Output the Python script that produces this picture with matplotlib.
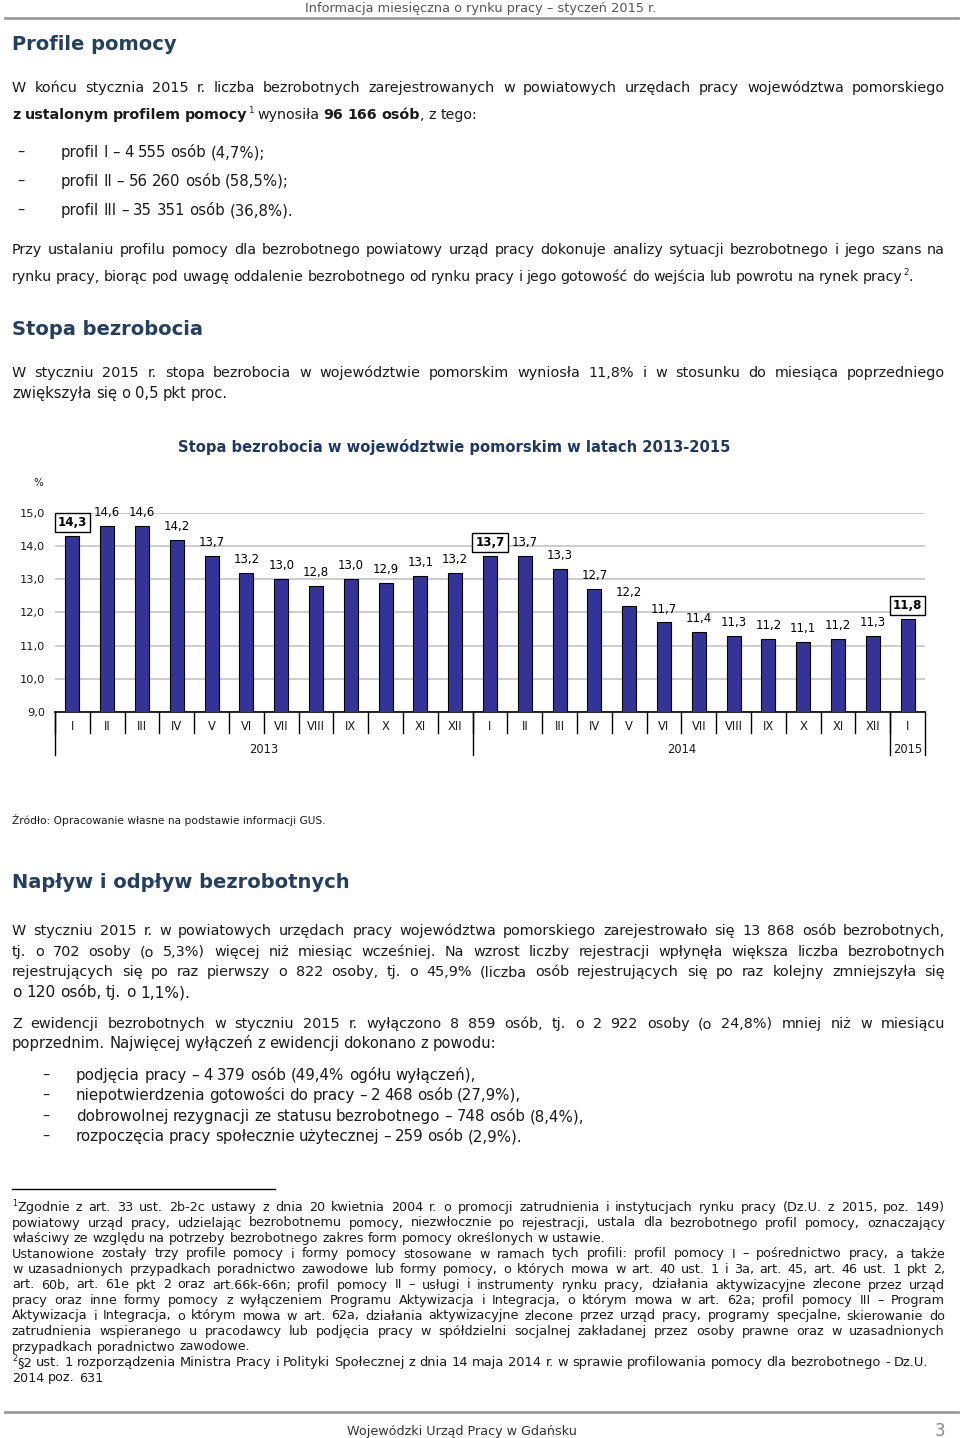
import matplotlib
matplotlib.use("Agg")
import matplotlib.pyplot as plt
from matplotlib.transforms import Affine2D

# dane do wykresu
months = ['I', 'II', 'III', 'IV', 'V', 'VI', 'VII', 'VIII', 'IX', 'X', 'XI', 'XII',
          'I', 'II', 'III', 'IV', 'V', 'VI', 'VII', 'VIII', 'IX', 'X', 'XI', 'XII',
          'I']
rates = [14.3, 14.6, 14.6, 14.2, 13.7, 13.2, 13.0, 12.8, 13.0, 12.9, 13.1, 13.2,
         13.7, 13.7, 13.3, 12.7, 12.2, 11.7, 11.4, 11.3, 11.2, 11.1, 11.2, 11.3,
         11.8]
years = ['2013', '2014', '2015']
year_lengths = [12, 12, 1]
highlighted = [0, 12, 24]
y_ticks = [9, 10, 11, 12, 13, 14, 15]

W, H = 960, 1438
fig = plt.figure(figsize=(W / 100, H / 100), dpi=100)
plt.rcParams['font.family'] = ['DejaVu Sans']
px = Affine2D().scale(1 / W, -1 / H).translate(0, 1) + fig.transFigure
R = fig.canvas.get_renderer()

TXT = '#1a1a1a'
HEAD = '#243F60'
BODY = 10.4
FOOT = 9.2


def fmt(v):
    return f"{v:.1f}".replace('.', ',')


def put(x, y, s, style, size, color):
    if style == 'sup':
        return fig.text(x, y - size * 0.55, s, fontsize=size * 0.62, color=color,
                        va='baseline', transform=px)
    return fig.text(x, y, s, fontsize=size, color=color, va='baseline', transform=px,
                    fontweight='bold' if style == 'b' else 'normal')


_cache = {}


def adv(s, style, size):
    # szerokosc slowa mierzona miedzy dwiema kreskami
    key = (s, style, round(size, 3))
    if key not in _cache:
        a = put(0, 0, '|' + s + '|', style, size, 'w')
        b = put(0, 0, '||', style, size, 'w')
        _cache[key] = a.get_window_extent(R).width - b.get_window_extent(R).width
        a.remove()
        b.remove()
    return _cache[key]


def words_of(runs):
    words = []
    new = True
    for text, style in runs:
        for j, p in enumerate(text.split(' ')):
            if j > 0:
                new = True
            if not p:
                continue
            if new or not words:
                words.append([(p, style)])
            else:
                words[-1].append((p, style))
            new = False
    return words


def natural(words, size):
    sp = adv(' ', 'n', size)
    total = sum(adv(s, st, size) for w in words for s, st in w)
    return total, sp


def line(y, runs, x0=12, x1=None, size=BODY, color=TXT, fit=False):
    # x1 = prawy koniec wiersza jak w oryginale; fit = dopasuj rozmiar zamiast odstepow
    if isinstance(runs, str):
        runs = [(runs, 'n')]
    words = words_of(runs)
    if fit and x1 is not None:
        total, sp = natural(words, size)
        nat = total + sp * (len(words) - 1)
        size = size * min(1.12, max(0.88, (x1 - x0) / nat))
    while True:
        total, sp = natural(words, size)
        if x1 is not None and len(words) > 1:
            gap = (x1 - x0 - total) / (len(words) - 1)
            if gap < 0.6 * sp:
                size *= 0.98
                continue
        else:
            gap = sp
        break
    x = x0
    for w in words:
        for s, st in w:
            put(x, y, s, st, size, color)
            x += adv(s, st, size)
        x += gap


def rule(y, x0, x1, color, lw):
    fig.add_artist(plt.Line2D([x0, x1], [y, y], color=color, lw=lw, transform=px))


# naglowek strony
fig.text(656, 12, 'Informacja miesięczna o rynku pracy – styczeń 2015 r.', fontsize=9.3,
         color='#555555', ha='right', va='baseline', transform=px)
rule(18, 5, 958, '#9a9a9a', 2)

fig.text(12, 50, 'Profile pomocy', fontsize=14, fontweight='bold', color=HEAD,
         va='baseline', transform=px)
line(92, 'W końcu stycznia 2015 r. liczba bezrobotnych zarejestrowanych w powiatowych '
         'urzędach pracy województwa pomorskiego', x1=945)
line(119, [('z ustalonym profilem pomocy', 'b'), ('1', 'sup'), (' wynosiła ', 'n'),
           ('96 166 osób', 'b'), (', z tego:', 'n')], x1=477, fit=True)
for yy, s, e in [(157, 'profil I – 4 555 osób (4,7%);', 265),
                 (186, 'profil II – 56 260 osób (58,5%);', 289),
                 (215, 'profil III – 35 351 osób (36,8%).', 293)]:
    fig.text(17, yy, '–', fontsize=BODY, color=TXT, va='baseline', transform=px)
    line(yy, s, x0=61, x1=e, fit=True)

line(254, 'Przy ustalaniu profilu pomocy dla bezrobotnego powiatowy urząd pracy dokonuje '
          'analizy sytuacji bezrobotnego i jego szans na', x1=945)
line(281, [('rynku pracy, biorąc pod uwagę oddalenie bezrobotnego od rynku pracy i jego '
            'gotowość do wejścia lub powrotu na rynek pracy', 'n'), ('2', 'sup'), ('.', 'n')],
     x1=913, fit=True)

fig.text(12, 335, 'Stopa bezrobocia', fontsize=14, fontweight='bold', color=HEAD,
         va='baseline', transform=px)
line(377, 'W styczniu 2015 r. stopa bezrobocia w województwie pomorskim wyniosła 11,8% '
          'i w stosunku do miesiąca poprzedniego', x1=945)
line(398, 'zwiększyła się o 0,5 pkt proc.', x1=228, fit=True)

# wykres
fig.text(454, 447, 'Stopa bezrobocia w województwie pomorskim w latach 2013-2015',
         fontsize=10.6, fontweight='bold', color='#1F3864', ha='center', va='center',
         transform=px)
fig.text(38, 483, '%', fontsize=7.5, color=TXT, ha='center', va='center', transform=px)

ax = fig.add_axes([55 / W, 1 - 712 / H, 870 / W, 199 / H])
x = list(range(len(rates)))
ax.bar(x, rates, width=0.4, bottom=0, color='#333399', edgecolor='black', lw=0.8, zorder=3)
ax.set_xlim(-0.5, len(rates) - 0.5)
ax.set_ylim(9, 15)
ax.set_yticks(y_ticks)
ax.set_yticklabels([fmt(v) for v in y_ticks], fontsize=8.2, color=TXT)
ax.tick_params(axis='y', length=0, pad=7)
ax.set_xticks([])
ax.yaxis.grid(True, color='#c8c8c8', lw=1.3)
ax.set_axisbelow(True)
for s in ['left', 'right', 'top']:
    ax.spines[s].set_visible(False)
ax.spines['bottom'].set_linewidth(1.2)

for i, v in enumerate(rates):
    if i in highlighted:
        ax.annotate(fmt(v), (i, v), xytext=(0, 5), textcoords='offset points',
                    ha='center', va='bottom', fontsize=8.6, fontweight='bold',
                    bbox=dict(boxstyle='square,pad=0.25', fc='white', ec='black', lw=1),
                    annotation_clip=False)
    else:
        ax.annotate(fmt(v), (i, v), xytext=(0, 5), textcoords='offset points',
                    ha='center', va='bottom', fontsize=8.5, annotation_clip=False)

xt = ax.get_xaxis_transform()
for i, m in enumerate(months):
    ax.text(i, -0.075, m, transform=xt, ha='center', va='center', fontsize=8.3, color=TXT)
    ax.plot([i - 0.5, i - 0.5], [0, -0.105], transform=xt, color='black', lw=1,
            clip_on=False)
start = -0.5
for yr, n in zip(years, year_lengths):
    ax.text(start + n / 2, -0.19, yr, transform=xt, ha='center', va='center',
            fontsize=8.3, color=TXT)
    ax.plot([start, start], [0, -0.216], transform=xt, color='black', lw=1, clip_on=False)
    start += n
ax.plot([start, start], [0, -0.216], transform=xt, color='black', lw=1, clip_on=False)

fig.text(12, 824, 'Źródło: Opracowanie własne na podstawie informacji GUS.', fontsize=7.7,
         color=TXT, va='baseline', transform=px)

fig.text(12, 888, 'Napływ i odpływ bezrobotnych', fontsize=14, fontweight='bold',
         color=HEAD, va='baseline', transform=px)
line(935, 'W styczniu 2015 r. w powiatowych urzędach pracy województwa pomorskiego '
          'zarejestrowało się 13 868 osób bezrobotnych,', x1=945)
line(956, 'tj. o 702 osoby (o 5,3%) więcej niż miesiąc wcześniej. Na wzrost liczby '
          'rejestracji wpłynęła większa liczba bezrobotnych', x1=945)
line(976, 'rejestrujących się po raz pierwszy o 822 osoby, tj. o 45,9% (liczba osób '
          'rejestrujących się po raz kolejny zmniejszyła się', x1=945)
line(997, 'o 120 osób, tj. o 1,1%).', x1=190, fit=True)
line(1028, 'Z ewidencji bezrobotnych w styczniu 2015 r. wyłączono 8 859 osób, tj. o 2 922 '
           'osoby (o 24,8%) mniej niż w miesiącu', x1=945)
line(1048, 'poprzednim. Najwięcej wyłączeń z ewidencji dokonano z powodu:', x1=496, fit=True)
for yy, s, e in [(1080, 'podjęcia pracy – 4 379 osób (49,4% ogółu wyłączeń),', 476),
                 (1100, 'niepotwierdzenia gotowości do pracy – 2 468 osób (27,9%),', 521),
                 (1121, 'dobrowolnej rezygnacji ze statusu bezrobotnego – 748 osób (8,4%),', 584),
                 (1141, 'rozpoczęcia pracy społecznie użytecznej – 259 osób (2,9%).', 522)]:
    fig.text(42, yy, '–', fontsize=BODY, color=TXT, va='baseline', transform=px)
    line(yy, s, x0=76, x1=e, fit=True)

# przypisy
rule(1189, 12, 275, 'black', 1)
foot = [
    ([('1', 'sup'), ('Zgodnie z art. 33 ust. 2b-2c ustawy z dnia 20 kwietnia 2004 r. o promocji '
                     'zatrudnienia i instytucjach rynku pracy (Dz.U. z 2015, poz. 149)', 'n')], 945, False),
    ('powiatowy urząd pracy, udzielając bezrobotnemu pomocy, niezwłocznie po rejestracji, '
     'ustala dla bezrobotnego profil pomocy, oznaczający', 945, False),
    ('właściwy ze względu na potrzeby bezrobotnego zakres form pomocy określonych w ustawie.', 606, True),
    ('Ustanowione zostały trzy profile pomocy i formy pomocy stosowane w ramach tych profili: '
     'profil pomocy I – pośrednictwo pracy, a także', 945, False),
    ('w uzasadnionych przypadkach poradnictwo zawodowe lub formy pomocy, o których mowa w art. 40 '
     'ust. 1 i 3a, art. 45, art. 46 ust. 1 pkt 2,', 945, False),
    ('art. 60b, art. 61e pkt 2 oraz art.66k-66n; profil pomocy II – usługi i instrumenty rynku '
     'pracy, działania aktywizacyjne zlecone przez urząd', 945, False),
    ('pracy oraz inne formy pomocy z wyłączeniem Programu Aktywizacja i Integracja, o którym mowa '
     'w art. 62a; profil pomocy III – Program', 945, False),
    ('Aktywizacja i Integracja, o którym mowa w art. 62a, działania aktywizacyjne zlecone przez '
     'urząd pracy, programy specjalne, skierowanie do', 945, False),
    ('zatrudnienia wspieranego u pracodawcy lub podjęcia pracy w spółdzielni socjalnej zakładanej '
     'przez osoby prawne oraz w uzasadnionych', 945, False),
    ('przypadkach poradnictwo zawodowe.', 250, True),
    ([('2', 'sup'), ('§2 ust. 1 rozporządzenia Ministra Pracy i Polityki Społecznej z dnia 14 maja '
                     '2014 r. w sprawie profilowania pomocy dla bezrobotnego - Dz.U.', 'n')], 928, True),
    ('2014 poz. 631', 103, True),
]
yy = 1211
for runs, end, fit in foot:
    line(yy, runs, size=FOOT, x1=end, fit=fit)
    yy += 15.5

# stopka
rule(1412, 5, 958, '#9a9a9a', 2)
fig.text(462, 1435, 'Wojewódzki Urząd Pracy w Gdańsku', fontsize=9.2, color='#333333',
         ha='center', va='baseline', transform=px)
fig.text(945, 1436, '3', fontsize=12, color='#888888', ha='right', va='baseline',
         transform=px)

plt.savefig('out.png', dpi=100)
